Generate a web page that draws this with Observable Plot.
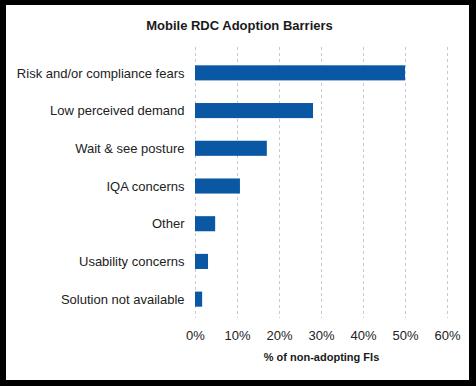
<!DOCTYPE html>
<html>
<head>
<meta charset="utf-8">
<script src="https://cdn.jsdelivr.net/npm/d3@7"></script>
<script src="https://cdn.jsdelivr.net/npm/@observablehq/plot@0.6"></script>
<style>
  html, body { margin: 0; padding: 0; background: #000; width: 476px; height: 386px; overflow: hidden; }
  #box { position: absolute; left: 6px; top: 5px; width: 463px; height: 375px; background: #fff; font-family: "Liberation Sans", Arial, sans-serif; }
  #title { height: 42px; line-height: 42px; text-align: center; font-weight: bold; font-size: 13px; color: #1a1a1a; padding-left: 4px; }
  #chart { position: absolute; left: 0; top: 40px; }
  #chart svg { display: block; }
</style>
</head>
<body>
<div id="box">
  <div id="title">Mobile RDC Adoption Barriers</div>
  <div id="chart"></div>
</div>
<script>
const categories = ["Risk and/or compliance fears", "Low perceived demand", "Wait & see posture", "IQA concerns", "Other", "Usability concerns", "Solution not available"];
const values = [50, 28.1, 17.1, 10.7, 4.8, 3.1, 1.7];
const xTicks = [0, 10, 20, 30, 40, 50, 60];
const xLabel = "% of non-adopting FIs";

const data = categories.map((c, i) => ({category: c, value: values[i]}));

const chart = Plot.plot({
  width: 463,
  height: 335,
  marginLeft: 189,
  marginRight: 22,
  marginTop: 2,
  insetTop: 7,
  marginBottom: 62,
  style: {fontFamily: "'Liberation Sans', Arial, sans-serif", fontSize: "13px", color: "#222", background: "#fff"},
  x: {domain: [0, 60]},
  y: {domain: categories, paddingInner: 0.6, paddingOuter: 0.3, round: false},
  marks: [
    Plot.ruleX(xTicks, {stroke: "#c3c8d6", strokeDasharray: "3,3", strokeWidth: 1}),
    Plot.barX(data, {x: "value", y: "category", fill: "#0a57a4"}),
    Plot.axisX({ticks: xTicks, tickFormat: d => d + "%", tickSize: 0, tickPadding: 12, label: null, fontSize: 13, fill: "#222"}),
    Plot.axisY({tickSize: 0, tickPadding: 11, label: null, fontSize: 13, fill: "#222"}),
    Plot.text([xLabel], {frameAnchor: "bottom", dy: 39, text: d => d, fontWeight: "bold", fontSize: 11, fill: "#1a1a1a", lineAnchor: "middle"})
  ]
});
document.getElementById("chart").appendChild(chart);
</script>
</body>
</html>
